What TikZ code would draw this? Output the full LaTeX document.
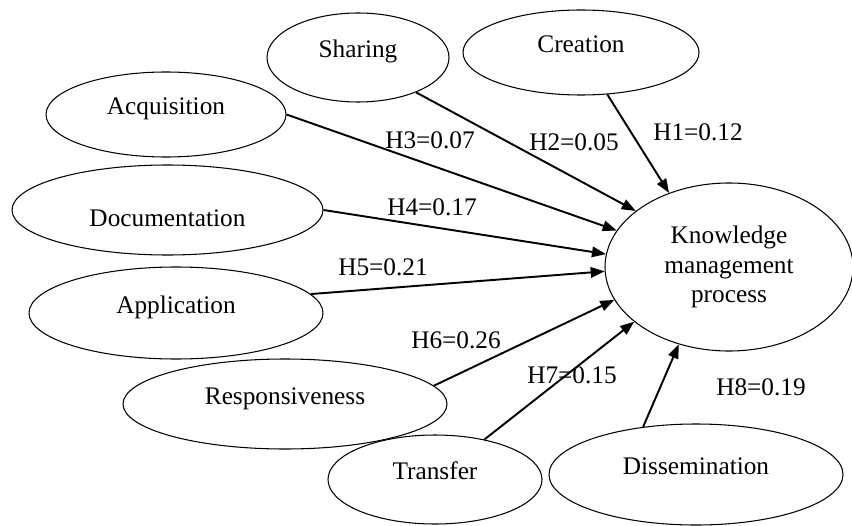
\documentclass[tikz,border=0pt]{standalone}
\usepackage{fontspec}
\setmainfont{Liberation Serif}
\usetikzlibrary{arrows.meta, shapes.geometric}

\begin{document}
\begin{tikzpicture}[
  font=\fontsize{14.4}{17}\selectfont,
  oval/.style={ellipse, draw, semithick, inner sep=0pt,
               text height=9.5pt, text depth=9pt},
  target/.style={ellipse, draw, semithick, inner sep=0pt, align=center},
  link/.style={line width=1.1pt, -{Triangle[length=0.28cm, width=0.21cm]}},
  coef/.style={inner sep=1pt}
]
  \useasboundingbox (0,0) rectangle (17.04,10.5);

  % outcome
  \node[target, minimum width=4.96cm, minimum height=3.36cm] (kmp)
    at (14.58,5.16) {Knowledge\\management\\process};

  % predictors
  \node[oval, minimum width=4.72cm, minimum height=1.70cm] (creation)
    at (11.62,9.45) {Creation};
  \node[oval, minimum width=3.64cm, minimum height=1.78cm] (sharing)
    at (7.16,9.35) {Sharing};
  \node[oval, minimum width=4.80cm, minimum height=1.70cm] (acquisition)
    at (3.32,8.21) {Acquisition};
  \node[oval, minimum width=6.22cm, minimum height=1.80cm,
        text height=19pt, text depth=0pt] (documentation)
    at (3.35,6.30) {Documentation};
  \node[oval, minimum width=5.88cm, minimum height=1.84cm] (application)
    at (3.52,4.24) {Application};
  \node[oval, minimum width=6.48cm, minimum height=1.80cm] (responsiveness)
    at (5.70,2.42) {Responsiveness};
  \node[oval, minimum width=4.28cm, minimum height=1.78cm] (transfer)
    at (8.70,0.91) {Transfer};
  \node[oval, minimum width=5.88cm, minimum height=2.02cm] (dissemination)
    at (13.92,1.01) {Dissemination};

  % paths
  \draw[link] (creation) -- (kmp.129);
  \draw[link] (sharing.329) -- (kmp.149);
  \draw[link] (acquisition.east) -- (kmp.162);
  \draw[link] (documentation.east) -- (kmp.174.5);
  \draw[link] (application.8) -- (kmp.182);
  \draw[link] (responsiveness.7) -- (kmp.196);
  \draw[link] (transfer.39) -- (kmp.210);
  \draw[link] (dissemination.138) -- (kmp.237);

  % coefficients
  \node[coef] (h1) at (13.96,7.86) {H1=0.12};
  \node[coef] (h2) at (11.48,7.66) {H2=0.05};
  \node[coef] (h3) at (8.60,7.70) {H3=0.07};
  \node[coef] (h4) at (8.64,6.36) {H4=0.17};
  \node[coef] (h5) at (7.66,5.16) {H5=0.21};
  \node[coef] (h6) at (9.12,3.70) {H6=0.26};
  \node[coef] (h7) at (11.44,3.00) {H7=0.15};
  \node[coef] (h8) at (15.22,2.76) {H8=0.19};

\end{tikzpicture}
\end{document}
